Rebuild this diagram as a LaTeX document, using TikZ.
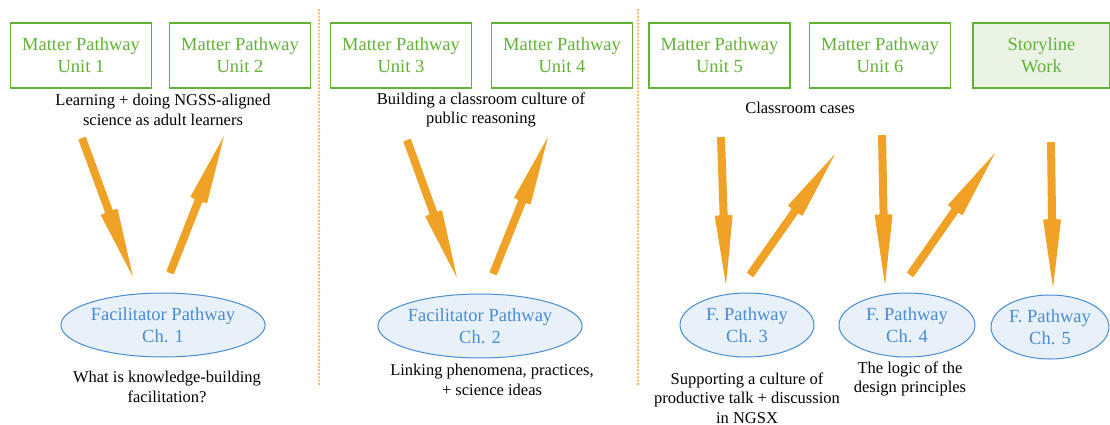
\documentclass[tikz,border=0pt]{standalone}
\usepackage{fontspec}
\setmainfont{Liberation Serif}
\usepackage{xcolor}
\usetikzlibrary{positioning, calc, shapes.geometric}

\definecolor{unitgreen}{RGB}{98,178,54}
\definecolor{storyfill}{RGB}{235,243,228}
\definecolor{chblue}{RGB}{72,140,210}
\definecolor{chfill}{RGB}{232,240,250}
\definecolor{flowor}{RGB}{240,162,38}
\definecolor{sepor}{RGB}{246,184,100}

\tikzset{
    unitbox/.style={draw=unitgreen, line width=1.3pt, text=unitgreen, minimum width=141pt, minimum height=65pt,
        align=center, font=\fontsize{18.5}{22}\selectfont, inner sep=0pt},
    chapter/.style={ellipse, draw=chblue, fill=chfill, line width=1pt, text=chblue, minimum height=64pt,
        align=center, font=\fontsize{18.5}{22}\selectfont, inner sep=0pt},
    caption/.style={align=center, font=\fontsize{16.5}{19.5}\selectfont, inner sep=0pt},
    sep/.style={draw=sepor, line width=2.6pt, dash pattern=on 0pt off 3.4pt, line cap=round}
}

% block arrow: shaft plus long narrow head, from #1 to #2
\newcommand{\flowarrow}[2]{%
    \path (#1) -- (#2) coordinate[pos=0.53] (fh);
    \fill[flowor, rounded corners=0.8pt] ($(#1)!4pt!90:(#2)$) -- ($(fh)!4pt!90:(#2)$) -- ($(fh)!9pt!90:(#2)$)
        -- (#2) -- ($(fh)!9pt!-90:(#2)$) -- ($(fh)!4pt!-90:(#2)$) -- ($(#1)!4pt!-90:(#2)$) -- cycle;}

\begin{document}
\begin{tikzpicture}[x=1pt, y=-1pt]
    \useasboundingbox (0,0) rectangle (1110,425);
    % section separators
    \coordinate (s1t) at (319,10);  \coordinate (s1b) at (319,385);
    \coordinate (s2t) at (638,10);  \coordinate (s2b) at (638,385);
    \draw[sep] (s1t) -- (s1b);
    \draw[sep] (s2t) -- (s2b);

    % matter pathway units
    \node[unitbox] (u1) at (81,55.5) {Matter Pathway\\Unit 1};
    \node[unitbox] (u2) at (240,55.5) {Matter Pathway\\Unit 2};
    \node[unitbox] (u3) at (401,55.5) {Matter Pathway\\Unit 3};
    \node[unitbox] (u4) at (562,55.5) {Matter Pathway\\Unit 4};
    \node[unitbox] (u5) at (719.5,55.5) {Matter Pathway\\Unit 5};
    \node[unitbox] (u6) at (880,55.5) {Matter Pathway\\Unit 6};
    \node[unitbox, fill=storyfill, minimum width=137pt] (sw) at (1041.5,55.5) {Storyline\\Work};

    % top captions
    \node[caption] (t1) at (163,110) {Learning + doing NGSS-aligned\\science as adult learners};
    \node[caption] (t2) at (481,110) {Building a classroom culture of\\public reasoning};
    \node[caption] (t3) at (800,108) {Classroom cases};

    % facilitator pathway chapters
    \node[chapter, minimum width=190pt] (c1) at (163,325) {Facilitator Pathway\\Ch. 1};
    \node[chapter, minimum width=190pt] (c2) at (480,326) {Facilitator Pathway\\Ch. 2};
    \node[chapter, minimum width=134pt] (c3) at (747,325) {F. Pathway\\Ch. 3};
    \node[chapter, minimum width=136pt] (c4) at (907,325) {F. Pathway\\Ch. 4};
    \node[chapter, minimum width=118pt] (c5) at (1050,327) {F. Pathway\\Ch. 5};

    % bottom captions
    \node[caption] (b1) at (167,387) {What is knowledge-building\\facilitation?};
    \node[caption] (b2) at (492,380) {Linking phenomena, practices,\\+ science ideas};
    \node[caption] (b3) at (747,398) {Supporting a culture of\\productive talk + discussion\\in NGSX};
    \node[caption] (b4) at (910,379) {The logic of the\\design principles};

    % flow arrows
    \coordinate (a1s) at (82,138);   \coordinate (a1e) at (133,277);
    \coordinate (a2s) at (170,273);  \coordinate (a2e) at (224,136);
    \coordinate (a3s) at (407,140);  \coordinate (a3e) at (457,278);
    \coordinate (a4s) at (493,274);  \coordinate (a4e) at (548,137);
    \coordinate (a5s) at (721,137);  \coordinate (a5e) at (726,285);
    \coordinate (a6s) at (750,275);  \coordinate (a6e) at (835,154);
    \coordinate (a7s) at (882,135);  \coordinate (a7e) at (885,285);
    \coordinate (a8s) at (910,275);  \coordinate (a8e) at (995,153);
    \coordinate (a9s) at (1051,142); \coordinate (a9e) at (1053,288);
    \flowarrow{a1s}{a1e}
    \flowarrow{a2s}{a2e}
    \flowarrow{a3s}{a3e}
    \flowarrow{a4s}{a4e}
    \flowarrow{a5s}{a5e}
    \flowarrow{a6s}{a6e}
    \flowarrow{a7s}{a7e}
    \flowarrow{a8s}{a8e}
    \flowarrow{a9s}{a9e}
\end{tikzpicture}
\end{document}
